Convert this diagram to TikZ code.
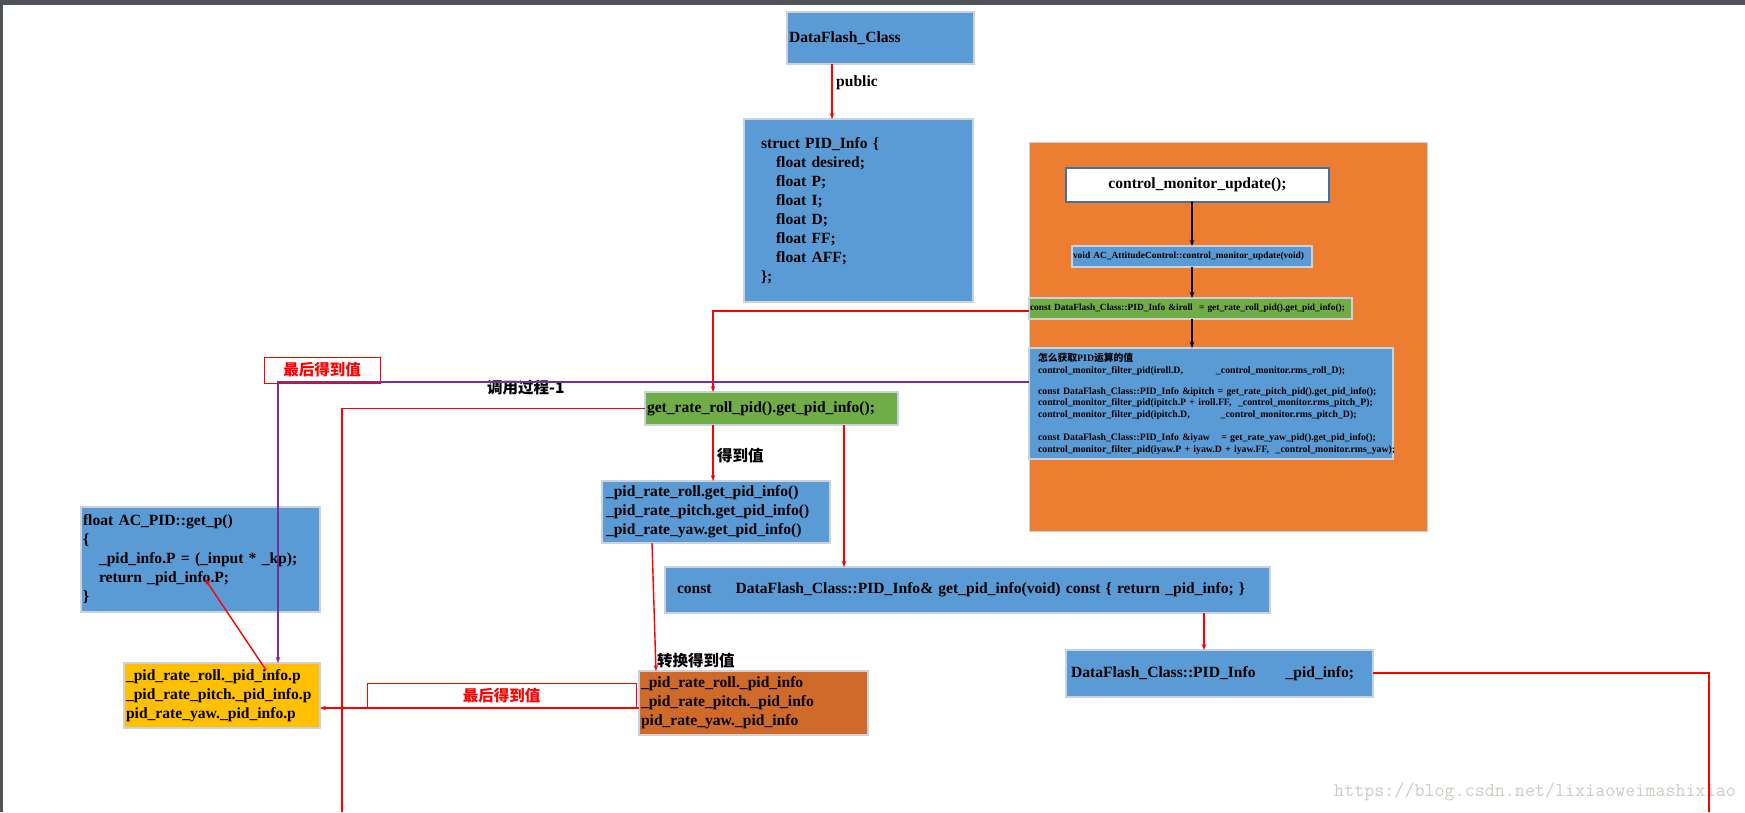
\documentclass[tikz,border=0pt]{standalone}
\usepackage{fontspec}
\setmainfont{Liberation Serif}
\newfontfamily\cjk{Noto Sans CJK SC}
\usetikzlibrary{arrows.meta}
\definecolor{cblue}{HTML}{5B9BD5}
\definecolor{cgreen}{HTML}{70AD47}
\definecolor{corange}{HTML}{ED7D31}
\definecolor{cdark}{HTML}{D06A2B}
\definecolor{cyellow}{HTML}{FFC000}
\definecolor{cpurple}{HTML}{7030A0}
\definecolor{cred}{HTML}{FF0000}
\definecolor{cline}{HTML}{C9D3DD}
\definecolor{cbar}{HTML}{505458}
\definecolor{cwm}{HTML}{CDCDC6}
\definecolor{cbord}{HTML}{41719C}
\newcommand\fbig{\fontsize{15.6pt}{19pt}\selectfont\bfseries}
\newcommand\fsml{\fontsize{9.4pt}{11.7pt}\selectfont\bfseries}
\newcommand\fcalc{\fontsize{9.8pt}{11.7pt}\selectfont\bfseries}
\newcommand\fcjk{\cjk\fontsize{15.5pt}{18pt}\selectfont\bfseries}
\tikzset{
  box/.style={draw=cline, line width=1.2pt, anchor=north west, inner ysep=0pt, outer sep=0pt, align=left, font=\fbig},
  lblbox/.style={draw=cred, fill=white, line width=1pt, anchor=north west, inner sep=0pt, outer sep=0pt, font=\fcjk, text=cred},
  arr/.style={-{Stealth[length=6pt,width=4.5pt]}},
  redl/.style={draw=cred, line width=1.4pt},
  blkl/.style={draw=black, line width=1.6pt},
  txt/.style={anchor=west, inner sep=0pt},
}
\begin{document}
\begin{tikzpicture}[x=1pt,y=-1pt]
\useasboundingbox (0,0) rectangle (1745,812);
\fill[white] (0,0) rectangle (1745,812);
\fill[cbar] (0,0) rectangle (1745,4.5);
\fill[cbar] (0,0) rectangle (2.5,812);

% top class
\node[box, fill=cblue, minimum width=187pt, minimum height=52pt, text width=183pt, inner xsep=2pt] (dfc) at (787,12) {DataFlash\_Class};
\node[box, fill=cblue, minimum width=229pt, minimum height=183pt, text width=195pt, inner xsep=17pt] (struct) at (744,119)
 {struct PID\_Info \{\\
  \hspace*{15pt}float desired;\\
  \hspace*{15pt}float P;\\
  \hspace*{15pt}float I;\\
  \hspace*{15pt}float D;\\
  \hspace*{15pt}float FF;\\
  \hspace*{15pt}float AFF;\\
  \};};

% orange group
\node[draw=cline, fill=corange, line width=1pt, anchor=north west, minimum width=398pt, minimum height=389pt, inner sep=0pt, outer sep=0pt] (grp) at (1029,142) {};
\node[draw=cbord, fill=white, line width=1.2pt, anchor=north west, minimum width=263pt, minimum height=34pt, inner sep=0pt, outer sep=0pt, font=\fbig] (cmu) at (1066,168) {control\_monitor\_update();};
\node[box, fill=cblue, font=\fsml, minimum width=240pt, minimum height=21pt, text width=238pt, inner xsep=1pt] (void) at (1072,246) {void AC\_AttitudeControl::control\_monitor\_update(void)};
\node[box, fill=cgreen, font=\fsml, minimum width=323pt, minimum height=21pt, text width=321pt, inner xsep=1pt] (iroll) at (1029,298) {\mbox{const DataFlash\_Class::PID\_Info \&iroll\ \ = get\_rate\_roll\_pid().get\_pid\_info();}};
\node[box, fill=cblue, font=\fcalc, minimum width=364pt, minimum height=111pt, text width=346pt, inner xsep=9pt] (calc) at (1029,348)
 {\mbox{{\cjk 怎么获取}PID{\cjk 运算的值}}\\
  \mbox{control\_monitor\_filter\_pid(iroll.D,\hspace{33pt}\_control\_monitor.rms\_roll\_D);}\\[9.5pt]
  \mbox{const DataFlash\_Class::PID\_Info \&ipitch = get\_rate\_pitch\_pid().get\_pid\_info();}\\
  \mbox{control\_monitor\_filter\_pid(ipitch.P + iroll.FF,\ \ \_control\_monitor.rms\_pitch\_P);}\\
  \mbox{control\_monitor\_filter\_pid(ipitch.D,\hspace{31pt}\_control\_monitor.rms\_pitch\_D);}\\[11pt]
  \mbox{const DataFlash\_Class::PID\_Info \&iyaw\hspace{8pt} = get\_rate\_yaw\_pid().get\_pid\_info();}\\
  \mbox{control\_monitor\_filter\_pid(iyaw.P + iyaw.D + iyaw.FF,\ \ \_control\_monitor.rms\_yaw);}};

% middle
\node[box, fill=cgreen, minimum width=253pt, minimum height=33pt, text width=249pt, inner xsep=2pt] (grr) at (645,392) {\mbox{get\_rate\_roll\_pid().get\_pid\_info();}};
\node[box, fill=cblue, minimum width=228pt, minimum height=62pt, text width=220pt, inner xsep=4pt] (pidget) at (602,481)
 {\_pid\_rate\_roll.get\_pid\_info()\\
  \_pid\_rate\_pitch.get\_pid\_info()\\
  \_pid\_rate\_yaw.get\_pid\_info()};
\node[box, fill=cblue, minimum width=605pt, minimum height=46pt, text width=581pt, inner xsep=12pt] (const) at (665,567)
 {\mbox{const\hspace{24pt}DataFlash\_Class::PID\_Info\& get\_pid\_info(void) const \{ return \_pid\_info; \}}};
\node[box, fill=cblue, minimum width=307pt, minimum height=47pt, text width=297pt, inner xsep=5pt] (pinfo) at (1066,650)
 {\mbox{DataFlash\_Class::PID\_Info\hspace{30pt}\_pid\_info;}};

% left
\node[box, fill=cblue, minimum width=239pt, minimum height=105pt, text width=235pt, inner xsep=2pt] (getp) at (81,507)
 {float AC\_PID::get\_p()\\
  \{\\
  \hspace*{16pt}\_pid\_info.P = (\_input * \_kp);\\
  \hspace*{16pt}return \_pid\_info.P;\\
  \}};
\node[box, fill=cyellow, minimum width=196pt, minimum height=65pt, text width=192pt, inner xsep=2pt] (yellow) at (124,663)
 {\_pid\_rate\_roll.\_pid\_info.p\\
  \_pid\_rate\_pitch.\_pid\_info.p\\
  pid\_rate\_yaw.\_pid\_info.p};
\node[box, fill=cdark, minimum width=229pt, minimum height=64pt, text width=225pt, inner xsep=2pt] (darkor) at (639,671)
 {\_pid\_rate\_roll.\_pid\_info\\
  \_pid\_rate\_pitch.\_pid\_info\\
  pid\_rate\_yaw.\_pid\_info};

% red label boxes
\node[lblbox, minimum width=116pt, minimum height=26pt] (last1) at (264,357) {最后得到值};
\node[lblbox, minimum width=269pt, minimum height=25pt] (last2) at (367,683) {最后得到值};

% free labels
\node[txt, font=\fbig] (public) at (836,83) {public};
\node[txt, font=\fcjk] (call) at (487,388) {调用过程-1};
\node[txt, font=\fcjk] (getv) at (717,456) {得到值};
\node[txt, font=\fcjk] (conv) at (657,661) {转换得到值};
\node[txt, font=\ttfamily\fontsize{19.5pt}{21pt}\selectfont, text=cwm] (wm) at (1334,792) {https://blog.csdn.net/lixiaoweimashixiao};

\coordinate (bot1) at (342,812);
\coordinate (bot2) at (1709,812);

% connectors
\draw[redl, arr] ([xshift=45pt]dfc.south west) -- ([xshift=88pt]struct.north west);
\draw[blkl, arr] (void.north |- cmu.south) -- (void.north);
\draw[blkl, arr] (void.south) -- (void.south |- iroll.north);
\draw[blkl, arr] (void.south |- iroll.south) -- (void.south |- calc.north);
\draw[redl, arr] ([yshift=-13pt]iroll.north west) -| ([xshift=68pt]grr.north west);
\draw[draw=cpurple, line width=1.2pt, arr] ([yshift=-34pt]calc.north west) -| ([xshift=154pt]yellow.north west);
\draw[redl] (grr.west) -| (bot1);
\draw[redl, arr] ([xshift=68pt]grr.south west) -- ([xshift=111pt]pidget.north west);
\draw[redl, arr] ([xshift=199pt]grr.south west) -- ([xshift=179pt]const.north west);
\draw[redl, arr] ([xshift=50pt]pidget.south west) -- ([xshift=17pt]darkor.north west);
\draw[redl, arr] ([yshift=-37pt]darkor.north west) -- ([yshift=-45pt]yellow.north east);
\draw[redl, arr] ([xshift=142pt,yshift=-7pt]yellow.north west) -- ([xshift=124pt,yshift=-72pt]getp.north west);
\draw[redl, arr] ([xshift=539pt]const.south west) -- ([xshift=138pt]pinfo.north west);
\draw[draw=cred, line width=2pt] ([yshift=-23pt]pinfo.north east) -| (bot2);
\end{tikzpicture}
\end{document}
